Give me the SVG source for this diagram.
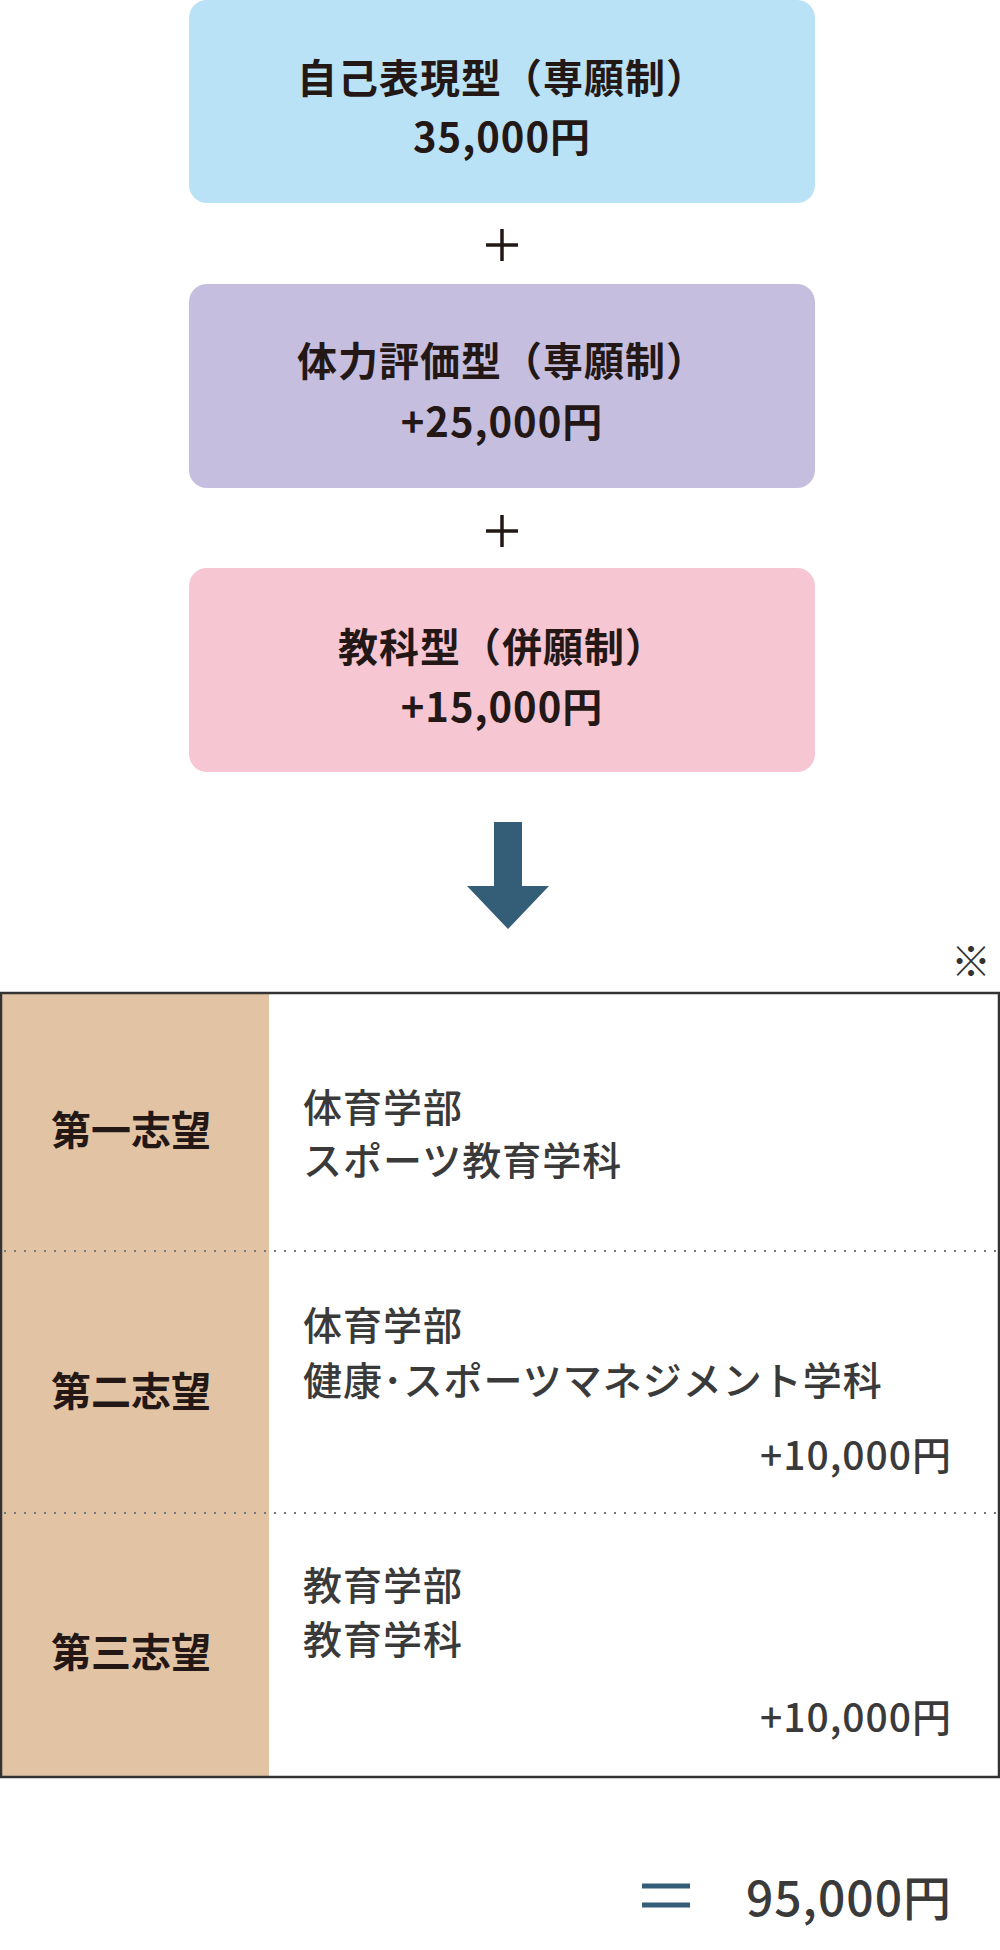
<svg xmlns="http://www.w3.org/2000/svg" width="1000" height="1950" viewBox="0 0 1000 1950">
<style>
text{font-family:"Noto Sans CJK JP","Noto Sans",sans-serif;fill:#231815}
.b{font-size:40px;font-weight:700;text-anchor:middle;letter-spacing:1px}
.l{font-size:40px;font-weight:700;text-anchor:middle}
.r{font-size:39px;font-weight:500;fill:#3a3a3a;letter-spacing:1px}
.e{text-anchor:end}
.dot{stroke:#777;stroke-width:2;stroke-dasharray:2 8}
</style>
<rect width="1000" height="1950" fill="#fff"/>
<g id="box1"><rect x="189" y="0" width="626" height="203" rx="18" fill="#bae2f7"/>
<text class="b" x="502" y="93">自己表現型（専願制）</text><text class="b" x="502" y="152">35,000円</text></g>
<g id="plus1"><path d="M486 245h32M502 229v32" stroke="#231815" stroke-width="3.5"/></g>
<g id="box2"><rect x="189" y="284" width="626" height="204" rx="18" fill="#c5bedf"/>
<text class="b" x="502" y="376">体力評価型（専願制）</text><text class="b" x="502" y="437">+25,000円</text></g>
<g id="plus2"><path d="M486 531h32M502 515v32" stroke="#231815" stroke-width="3.5"/></g>
<g id="box3"><rect x="189" y="568" width="626" height="204" rx="18" fill="#f6c6d3"/>
<text class="b" x="502" y="662">教科型（併願制）</text><text class="b" x="502" y="722">+15,000円</text></g>
<g id="connectors"><path d="M494 822h28v64h27l-41 43l-41-43h27z" fill="#345d78"/></g>
<text x="971" y="976" style="font-size:40px;text-anchor:middle;fill:#333">※</text>
<g id="table">
<rect x="1" y="993" width="268" height="784" fill="#e2c4a5"/>
<rect x="1" y="993" width="998" height="784" fill="none" stroke="#333" stroke-width="2.5"/>
<line class="dot" x1="4" y1="1251" x2="998" y2="1251"/>
<line class="dot" x1="4" y1="1513" x2="998" y2="1513"/>
</g>
<g id="row1"><text class="l" x="131" y="1145">第一志望</text>
<text class="r" x="303" y="1122">体育学部</text><text class="r" x="303" y="1175">スポーツ教育学科</text></g>
<g id="row2"><text class="l" x="131" y="1406">第二志望</text>
<text class="r" x="303" y="1340">体育学部</text><text class="r" x="303" y="1395">健康･スポーツマネジメント学科</text>
<text class="r e" x="952" y="1470">+10,000円</text></g>
<g id="row3"><text class="l" x="131" y="1667">第三志望</text>
<text class="r" x="303" y="1600">教育学部</text><text class="r" x="303" y="1654">教育学科</text>
<text class="r e" x="952" y="1732">+10,000円</text></g>
<g id="total"><path d="M642 1886h48M642 1905h48" stroke="#345d78" stroke-width="5"/>
<text class="r e" x="952" y="1916" style="font-size:48px">95,000円</text></g>
</svg>
